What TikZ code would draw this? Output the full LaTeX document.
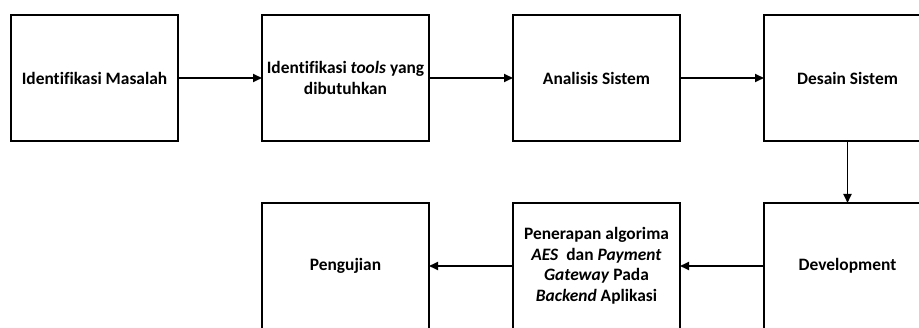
\documentclass[tikz,border=0pt]{standalone}
\usepackage{fontspec}
\setmainfont{Carlito}[Ligatures={NoCommon}]
\usetikzlibrary{positioning,arrows.meta}

\begin{document}
\begin{tikzpicture}[x=1pt,y=1pt,
        tahap/.style={draw, line width=1.8pt, outer sep=0pt, minimum width=167pt, minimum height=126pt, align=center, inner sep=2pt, font=\fontsize{17.4}{20.5}\selectfont\bfseries},
        panah/.style={-{Triangle[length=9pt,width=8pt]}, line width=1.8pt},
        node distance=84pt]
        \clip (0,0) rectangle (919,327);
        % baris atas
        \node[tahap] (masalah) at (94.5,249) {Identifikasi Masalah};
        \node[tahap, right=of masalah] (tools) {Identifikasi \textit{tools} yang\\ dibutuhkan};
        \node[tahap, right=of tools] (analisis) {Analisis Sistem};
        \node[tahap, right=of analisis] (desain) {Desain Sistem};
        % baris bawah
        \node[tahap, below=62pt of desain] (development) {Development};
        \node[tahap, left=of development] (penerapan) {Penerapan algorima\\ \textit{AES}~ dan \textit{Payment}\\ \textit{Gateway} Pada\\ \textit{Backend} Aplikasi};
        \node[tahap, left=of penerapan] (pengujian) {Pengujian};

        \draw[panah] (masalah) -- (tools);
        \draw[panah] (tools) -- (analisis);
        \draw[panah] (analisis) -- (desain);
        \draw[panah] (desain) -- (development);
        \draw[panah] (development) -- (penerapan);
        \draw[panah] (penerapan) -- (pengujian);
    \end{tikzpicture}
\end{document}
